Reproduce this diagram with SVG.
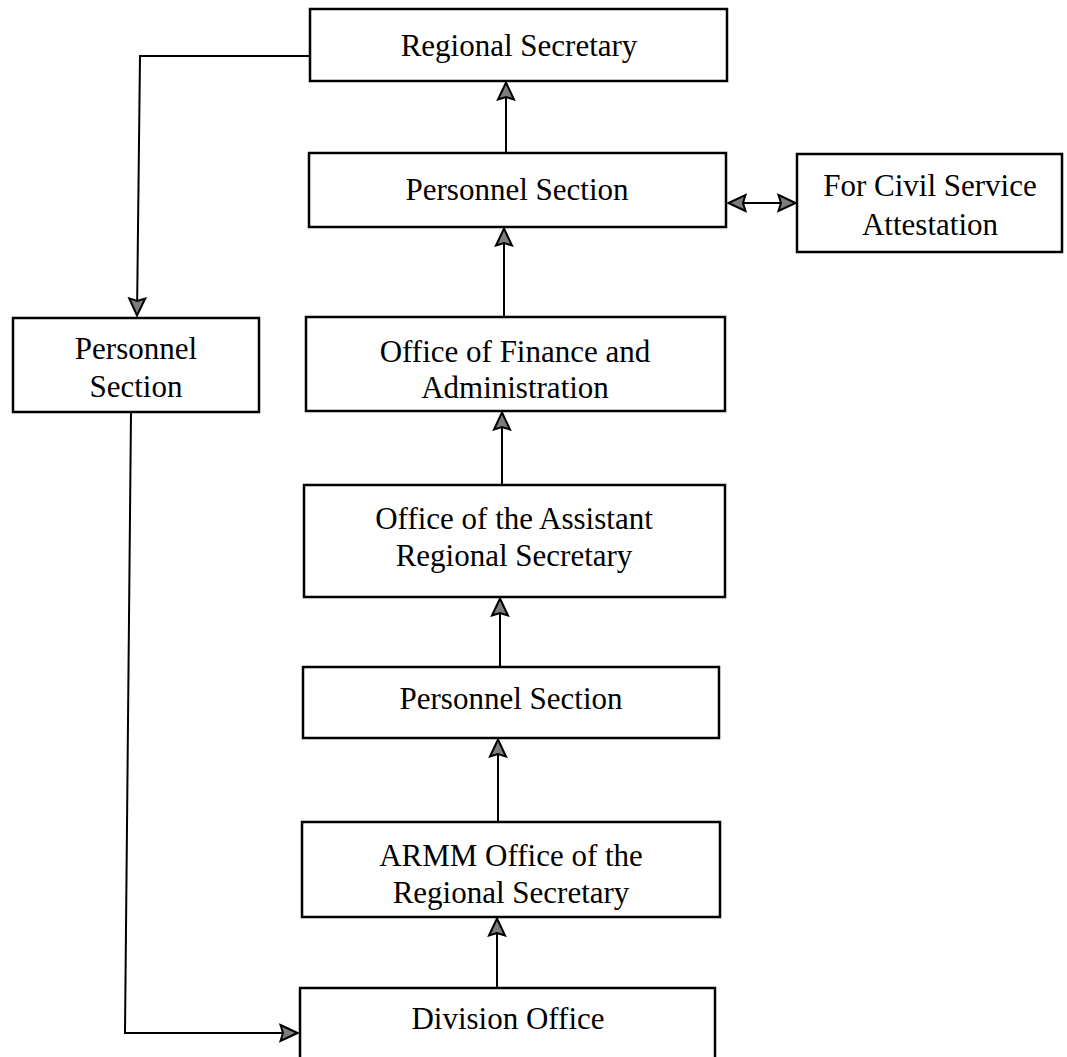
<svg xmlns="http://www.w3.org/2000/svg" width="1067" height="1057" viewBox="0 0 1067 1057">
<style>
.box{fill:#fff;stroke:#000;stroke-width:2.5}
.lbl{font-family:"Liberation Serif","Times New Roman",serif;font-size:31px;fill:#000;text-anchor:middle}
.ln{fill:none;stroke:#000;stroke-width:2}
</style>
<defs>
<marker id="ah" viewBox="0 0 20 20" refX="19" refY="10" markerWidth="20" markerHeight="20" markerUnits="userSpaceOnUse" orient="auto-start-reverse">
<path d="M1.5,2 L18.5,10 L1.5,18 L4,10 z" fill="#7d7d7d" stroke="#000" stroke-width="2" stroke-linejoin="miter"/>
</marker>
</defs>
<rect width="1067" height="1057" fill="#fff"/>
<g id="connectors">
<line class="ln" x1="506" y1="153" x2="506" y2="82" marker-end="url(#ah)"/>
<line class="ln" x1="504" y1="317" x2="504" y2="228" marker-end="url(#ah)"/>
<line class="ln" x1="502" y1="485" x2="502" y2="412" marker-end="url(#ah)"/>
<line class="ln" x1="500" y1="667" x2="500" y2="598" marker-end="url(#ah)"/>
<line class="ln" x1="498" y1="822" x2="498" y2="739" marker-end="url(#ah)"/>
<line class="ln" x1="497" y1="988" x2="497" y2="918" marker-end="url(#ah)"/>
<line class="ln" x1="728" y1="203" x2="796" y2="203" marker-start="url(#ah)" marker-end="url(#ah)"/>
<polyline class="ln" points="310,56 140,56 137,316" marker-end="url(#ah)"/>
<polyline class="ln" points="131,412 125,1033 298,1033" marker-end="url(#ah)"/>
</g>
<g id="n-regional-secretary">
<rect class="box" x="310" y="9" width="417" height="72"/>
<text class="lbl" x="519" y="56">Regional Secretary</text>
</g>
<g id="n-personnel-upper">
<rect class="box" x="309" y="153" width="417" height="74"/>
<text class="lbl" x="517" y="200">Personnel Section</text>
</g>
<g id="n-civil-service">
<rect class="box" x="797" y="154" width="265" height="98"/>
<text class="lbl" x="930" y="196">For Civil Service</text>
<text class="lbl" x="930" y="235">Attestation</text>
</g>
<g id="n-personnel-left">
<rect class="box" x="13" y="318" width="246" height="94"/>
<text class="lbl" x="136" y="359">Personnel</text>
<text class="lbl" x="136" y="397">Section</text>
</g>
<g id="n-finance">
<rect class="box" x="306" y="317" width="419" height="94"/>
<text class="lbl" x="515" y="362">Office of Finance and</text>
<text class="lbl" x="515" y="398">Administration</text>
</g>
<g id="n-assistant">
<rect class="box" x="304" y="485" width="421" height="112"/>
<text class="lbl" x="514" y="529">Office of the Assistant</text>
<text class="lbl" x="514" y="566">Regional Secretary</text>
</g>
<g id="n-personnel-lower">
<rect class="box" x="303" y="667" width="416" height="71"/>
<text class="lbl" x="511" y="709">Personnel Section</text>
</g>
<g id="n-armm">
<rect class="box" x="302" y="822" width="418" height="95"/>
<text class="lbl" x="511" y="866">ARMM Office of the</text>
<text class="lbl" x="511" y="903">Regional Secretary</text>
</g>
<g id="n-division">
<rect class="box" x="300" y="988" width="415" height="90"/>
<text class="lbl" x="508" y="1029">Division Office</text>
</g>
</svg>
